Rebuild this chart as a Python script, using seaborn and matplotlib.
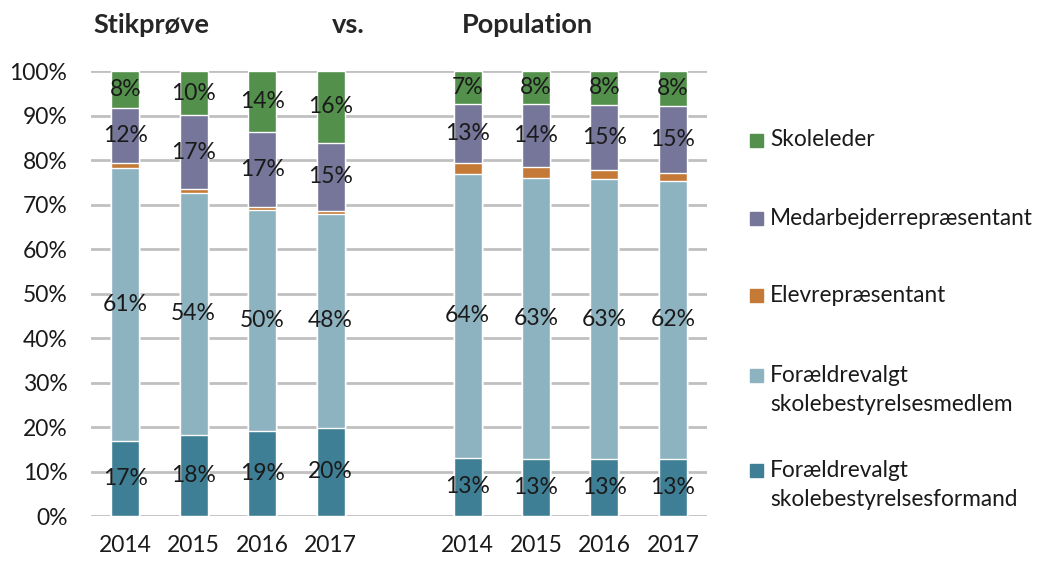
import numpy as np
import pandas as pd
import seaborn as sns
from matplotlib import pyplot as plt
from matplotlib.patches import Rectangle

# data (percent of members per role)
years = ['2014', '2015', '2016', '2017', '2014', '2015', '2016', '2017']
positions = [0, 1, 2, 3, 5, 6, 7, 8]  # gap between Stikprøve and Population
roles = ['Forældrevalgt\nskolebestyrelsesformand',
         'Forældrevalgt\nskolebestyrelsesmedlem',
         'Elevrepræsentant',
         'Medarbejderrepræsentant',
         'Skoleleder']
formand = [16.9, 18.3, 19.1, 19.8, 13.1, 12.8, 12.7, 12.9]
medlem = [61.4, 54.3, 49.7, 48.1, 63.8, 63.1, 63.0, 62.4]
elev = [1.1, 0.8, 0.7, 0.6, 2.5, 2.6, 2.0, 1.7]
medarbejder = [12.3, 16.7, 16.9, 15.4, 13.3, 14.0, 14.7, 15.2]
skoleleder = [8.3, 9.9, 13.6, 16.1, 7.3, 7.5, 7.6, 7.8]
labelled = [True, True, False, True, True]

colors = ['#3f7f96', '#8db3c1', '#c47a36', '#76759a', '#53904b']

sns.set_style('white')
plt.rcParams['font.family'] = ['Lato', 'DejaVu Sans']
fs = 16.5

series = [formand, medlem, elev, medarbejder, skoleleder]
values = np.array(series)
cum = values.cumsum(axis=0)

W, H = 1039, 561
fig = plt.figure(figsize=(W / 100, H / 100), dpi=100)
ax = fig.add_axes([0.0876, 0.0802, 0.593, 0.7932])

# draw cumulative totals from the top layer down so each layer overlaps the next
for i in range(len(roles) - 1, -1, -1):
    df = pd.DataFrame({'pos': positions, 'total': cum[i]})
    sns.barplot(data=df, x='pos', y='total', native_scale=True, width=0.41,
                color=colors[i], saturation=1, errorbar=None, ax=ax, zorder=2)

# data labels
for i in range(len(roles)):
    if not labelled[i]:
        continue
    for j, p in enumerate(positions):
        mid = cum[i][j] - values[i][j] / 2
        ax.text(p, mid, f'{values[i][j]:.0f}%', ha='center', va='center',
                fontsize=fs, color='#1a1a1a', zorder=3)

ax.set_ylim(0, 100)
ax.set_xlim(-0.5, 8.5)
ax.set_yticks(np.arange(0, 101, 10))
ax.set_yticklabels([f'{t}%' for t in range(0, 101, 10)])
ax.set_xticks(positions)
ax.set_xticklabels(years)
ax.tick_params(axis='both', labelsize=fs, length=0, colors='#1a1a1a')
ax.tick_params(axis='y', pad=17)
ax.tick_params(axis='x', pad=14)
ax.set_xlabel('')
ax.set_ylabel('')
ax.yaxis.grid(True, color='#c0c0c0', linewidth=2)
ax.set_axisbelow(True)
sns.despine(ax=ax, left=True, bottom=True)

# headings
fig.text(0.146, 0.955, 'Stikprøve', fontsize=19.5, fontweight='bold', ha='center', va='center')
fig.text(0.335, 0.955, 'vs.', fontsize=19.5, fontweight='bold', ha='center', va='center')
fig.text(0.508, 0.955, 'Population', fontsize=19.5, fontweight='bold', ha='center', va='center')

# legend, laid out by hand (Excel spreads the entries evenly)
legend_y = [485, 390, 295, 218, 140]  # pixel centre of each entry, same order as roles
for i in range(len(roles)):
    n_lines = roles[i].count('\n') + 1
    first_line = legend_y[i] - (n_lines - 1) * 15
    fig.add_artist(Rectangle((750 / W, 1 - (first_line + 6.5) / H), 13 / W, 13 / H,
                             transform=fig.transFigure, color=colors[i]))
    fig.text(770 / W, 1 - legend_y[i] / H, roles[i], fontsize=16.3, ha='left',
             va='center', linespacing=1.5, color='#1a1a1a')

plt.savefig('out.png', dpi=100)
